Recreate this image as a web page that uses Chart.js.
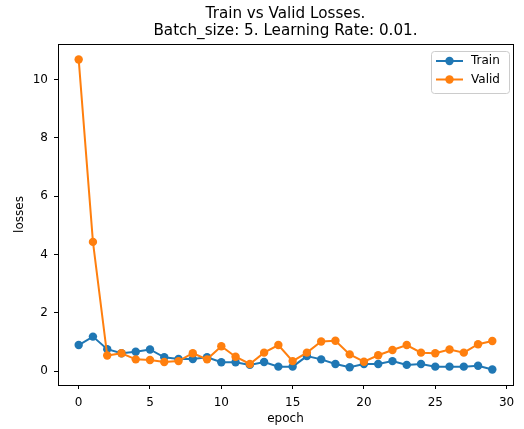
<!DOCTYPE html>
<html>
<head>
<meta charset="utf-8">
<script src="https://cdn.jsdelivr.net/npm/chart.js@4/dist/chart.umd.min.js"></script>
<style>
  html, body { margin: 0; padding: 0; background: #fff; }
  #c { display: block; }
</style>
</head>
<body>
<canvas id="c" width="524" height="429"></canvas>
<script>
const epochs = [0,1,2,3,4,5,6,7,8,9,10,11,12,13,14,15,16,17,18,19,20,21,22,23,24,25,26,27,28,29];
const trainLoss = [0.89,1.18,0.75,0.61,0.66,0.74,0.47,0.41,0.41,0.47,0.30,0.30,0.21,0.31,0.15,
                   0.15,0.51,0.40,0.24,0.13,0.24,0.24,0.34,0.21,0.24,0.15,0.15,0.15,0.18,0.05];
const validLoss = [10.69,4.43,0.53,0.61,0.40,0.38,0.31,0.34,0.61,0.40,0.85,0.49,0.24,0.63,0.89,
                   0.34,0.63,1.01,1.04,0.57,0.32,0.54,0.72,0.89,0.63,0.61,0.74,0.63,0.92,1.03];
const xTicks = [0,5,10,15,20,25,30];
const yTicks = [0,2,4,6,8,10];
const titleLines = ['Train vs Valid Losses.', 'Batch_size: 5. Learning Rate: 0.01.'];
const seriesNames = ['Train', 'Valid'];
const colors = ['#1f77b4', '#ff7f0e'];

const FONT = "'DejaVu Sans', sans-serif";

const framePlugin = {
  id: 'frame',
  afterDraw(chart) {
    const {ctx, chartArea: a} = chart;
    ctx.save();
    ctx.strokeStyle = '#000';
    ctx.lineWidth = 1;
    ctx.strokeRect(Math.round(a.left) + 0.5, Math.round(a.top) + 0.5,
                   Math.round(a.right - a.left), Math.round(a.bottom - a.top));
    ctx.fillStyle = '#000';
    ctx.font = '15.2px ' + FONT;
    ctx.textAlign = 'center';
    ctx.textBaseline = 'middle';
    const cx = (a.left + a.right) / 2;
    ctx.fillText(titleLines[0], cx, 14.5);
    ctx.fillText(titleLines[1], cx, 31.5);
    const bx = 431, by = 51, bw = 78, bh = 42, r = 3;
    ctx.fillStyle = 'rgba(255,255,255,0.8)';
    ctx.strokeStyle = '#cccccc';
    ctx.lineWidth = 1;
    ctx.beginPath();
    ctx.roundRect(bx + 0.5, by + 0.5, bw, bh, r);
    ctx.fill();
    ctx.stroke();
    ctx.font = '12px ' + FONT;
    ctx.textAlign = 'left';
    const rows = [61, 79.5];
    for (let i = 0; i < 2; i++) {
      const y = rows[i];
      ctx.strokeStyle = colors[i];
      ctx.lineWidth = 2;
      ctx.beginPath();
      ctx.moveTo(436, y);
      ctx.lineTo(463, y);
      ctx.stroke();
      ctx.fillStyle = colors[i];
      ctx.beginPath();
      ctx.arc(449.5, y, 4.2, 0, Math.PI * 2);
      ctx.fill();
      ctx.fillStyle = '#000';
      ctx.fillText(seriesNames[i], 471, y);
    }
    ctx.restore();
  }
};

const mk = (i, data, order) => ({
  label: seriesNames[i],
  data: epochs.map((e, k) => ({x: e, y: data[k]})),
  borderColor: colors[i],
  backgroundColor: colors[i],
  pointBackgroundColor: colors[i],
  pointBorderWidth: 0,
  pointRadius: 4.2,
  borderWidth: 2,
  tension: 0,
  order: order
});

new Chart(document.getElementById('c'), {
  type: 'line',
  data: {
    datasets: [mk(0, trainLoss, 1), mk(1, validLoss, 0)]
  },
  options: {
    responsive: false,
    animation: false,
    devicePixelRatio: 1,
    layout: { padding: { top: 44, right: 11, left: 0, bottom: 0 } },
    plugins: { legend: { display: false }, title: { display: false }, tooltip: { enabled: false } },
    scales: {
      x: {
        type: 'linear',
        min: -1.45,
        max: 30.45,
        afterBuildTicks: s => { s.ticks = xTicks.map(v => ({value: v})); },
        afterFit: s => { s.height = 44; },
        grid: { drawOnChartArea: false, drawTicks: true, tickLength: 4, color: '#000' },
        border: { display: true, color: '#000', width: 1 },
        ticks: { font: { family: FONT, size: 12 }, color: '#000', padding: 7, maxRotation: 0 },
        title: { display: true, text: 'epoch', font: { family: FONT, size: 12 }, color: '#000', padding: { top: 0, bottom: 3 } }
      },
      y: {
        type: 'linear',
        min: -0.48,
        max: 11.22,
        afterBuildTicks: s => { s.ticks = yTicks.map(v => ({value: v})); },
        afterFit: s => { s.width = 58; },
        grid: { drawOnChartArea: false, drawTicks: true, tickLength: 4, color: '#000' },
        border: { display: true, color: '#000', width: 1 },
        ticks: { font: { family: FONT, size: 12 }, color: '#000', padding: 6 },
        title: { display: true, text: 'losses', font: { family: FONT, size: 12 }, color: '#000', padding: { top: 13, bottom: 0 } }
      }
    }
  },
  plugins: [framePlugin]
});
</script>
</body>
</html>
